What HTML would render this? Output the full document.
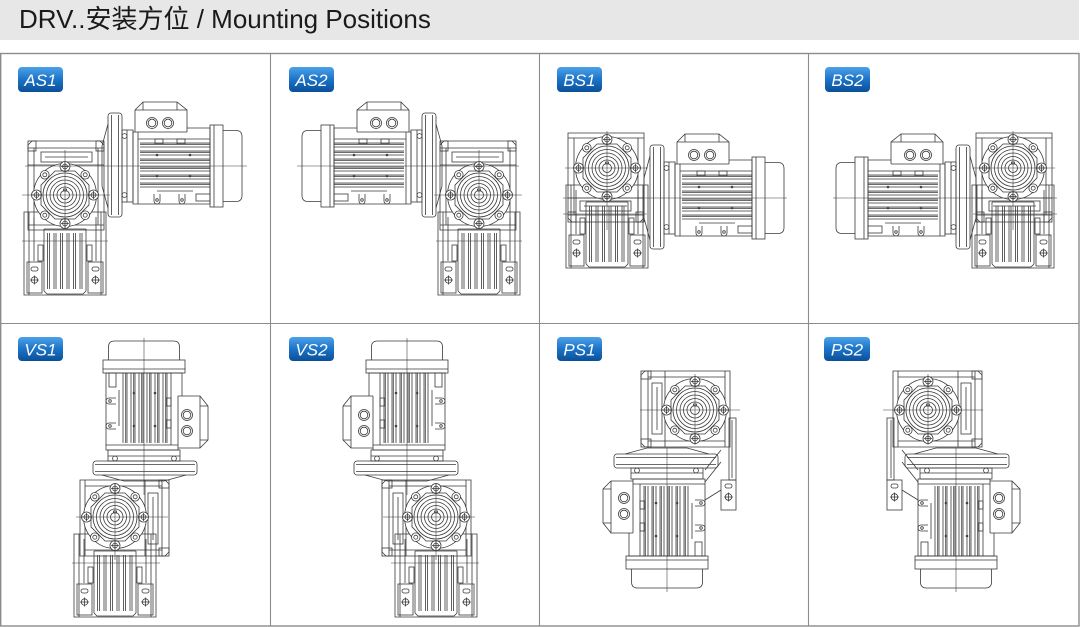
<!DOCTYPE html>
<html><head><meta charset="utf-8">
<style>
html,body{margin:0;padding:0;background:#fff;}
svg{display:block;}
</style></head><body>
<svg width="1080" height="627" viewBox="0 0 1080 627" xmlns="http://www.w3.org/2000/svg">
<defs>
<linearGradient id="bg" x1="0" y1="0" x2="0" y2="1">
<stop offset="0" stop-color="#4ca2e8"/>
<stop offset="0.5" stop-color="#1c73c7"/>
<stop offset="1" stop-color="#0a4f98"/>
</linearGradient>

<g id="face">
 <circle r="31.5" fill="#fff"/>
 <g fill="#fff">
  <circle cx="28.5" cy="0" r="5"/><circle cx="-28.5" cy="0" r="5"/><circle cx="0" cy="28.5" r="5"/><circle cx="0" cy="-28.5" r="5"/>
  <circle cx="20.2" cy="20.2" r="4.3"/><circle cx="-20.2" cy="20.2" r="4.3"/><circle cx="20.2" cy="-20.2" r="4.3"/><circle cx="-20.2" cy="-20.2" r="4.3"/>
 </g>
 <polygon points="24,9.95 9.95,24 -9.95,24 -24,9.95 -24,-9.95 -9.95,-24 9.95,-24 24,-9.95"/>
 <circle r="22"/>
 <circle r="18.5"/>
 <circle r="15"/>
 <circle r="11.5"/>
 <circle r="8"/>
 <circle r="4.5"/>
 <rect x="-1.5" y="-6" width="3" height="2"/>
 <g>
  <circle cx="28.5" cy="0" r="2.4"/><circle cx="-28.5" cy="0" r="2.4"/><circle cx="0" cy="28.5" r="2.4"/><circle cx="0" cy="-28.5" r="2.4"/>
  <circle cx="20.2" cy="20.2" r="2"/><circle cx="-20.2" cy="20.2" r="2"/><circle cx="20.2" cy="-20.2" r="2"/><circle cx="-20.2" cy="-20.2" r="2"/>
 </g>
 <path d="M24,0H33 M-24,0H-33 M0,24V33 M0,-24V-33 M28.5,-4V4 M-28.5,-4V4 M-4,28.5H4 M-4,-28.5H4"/>
</g>

<g id="base">
 <path d="M-41,17V100H41V17Z"/>
 <path d="M-36,17V100 M36,17V100 M-31,22V66 M31,22V66"/>
 <path d="M-21,34V96 M21,34V96 M-21,34H21 M-21,96L-18,99H18L21,96"/>
 <path d="M-17.5,38V94 M-15.5,38V94 M-11,38V94 M-9,38V94 M-4.5,38V94 M-2.5,38V94 M2,38V94 M4,38V94 M8.5,38V94 M10.5,38V94 M15,38V94 M17,38V94"/>
 <rect x="-38" y="67" width="15" height="31"/>
 <rect x="-34" y="72" width="7" height="4" rx="2"/>
 <circle cx="-30.5" cy="85" r="3.2"/>
 <path d="M-35,85H-26 M-30.5,80.5V89.5"/>
 <rect x="23" y="67" width="15" height="31"/>
 <rect x="27" y="72" width="7" height="4" rx="2"/>
 <circle cx="30.5" cy="85" r="3.2"/>
 <path d="M26,85H35 M30.5,80.5V89.5"/>
 <rect x="-27" y="50" width="5" height="16"/>
 <rect x="22" y="50" width="5" height="16"/>
</g>

<g id="hous">
 <path d="M-37,35V-50L-33,-54H35L39,-50V35Z"/>
 <path d="M-31,-47V30 M33,-47V30 M-37,-47H39 M-37,-30H39"/>
 <rect x="-24" y="-43" width="51" height="10"/>
 <path d="M-20,-38H23"/>
 <rect x="-37" y="-54" width="8" height="10"/>
 <rect x="31" y="-54" width="8" height="10"/>
 <path d="M-37,30H39"/>
</g>

<g id="mot">
 <path d="M0,-42L-6,-20V20L0,42"/>
 <rect x="0" y="-53" width="14" height="104" rx="3"/>
 <path d="M3.5,-51V49 M10.5,-51V49"/>
 <rect x="14" y="-36" width="11" height="72"/>
 <path d="M19,-36V36"/>
 <circle cx="16.5" cy="-30" r="2.4"/><circle cx="16.5" cy="29" r="2.4"/>
 <path d="M25,-34V38H102V-38H79"/>
 <path d="M25,-34H79 M30,-34V38 M30,-27H102"/>
 <path d="M32,-23H102 M32,-21.7H102 M32,-19H102 M32,-15H102 M32,-13.7H102 M32,-11H102 M32,-7H102 M32,-5.7H102 M32,-3H102 M32,1H102 M32,2.3H102 M32,5H102 M32,9H102 M32,10.3H102 M32,13H102 M32,17H102 M32,18.3H102 M32,21H102"/>
 <rect x="47" y="-27" width="8" height="5"/><rect x="69" y="-27" width="8" height="5"/>
 <circle cx="49" cy="-11" r="0.9"/><circle cx="82" cy="-11" r="0.9"/><circle cx="49" cy="10" r="0.9"/><circle cx="82" cy="10" r="0.9"/>
 <path d="M46,28V35A3,3 0 0 0 52,35V28 M71,28V35A3,3 0 0 0 77,35V28"/>
 <circle cx="49" cy="34" r="1.3"/><circle cx="74" cy="34" r="1.3"/>
 <path d="M49,25H85"/>
 <rect x="88" y="28" width="14" height="7"/>
 <path d="M27,-34V-56L35,-64H69L79,-56V-34"/>
 <path d="M27,-56H79 M35,-64V-56 M69,-64V-56"/>
 <circle cx="44" cy="-43" r="5.5"/><circle cx="44" cy="-43" r="3.8"/>
 <circle cx="60" cy="-43" r="5.5"/><circle cx="60" cy="-43" r="3.8"/>
 <rect x="102" y="-41" width="13" height="82"/>
 <path d="M106,-41V41"/>
 <path d="M115,-35.5H128Q134,-35.5 134,-29.5V29.5Q134,35.5 128,35.5H115"/>
</g>
</defs>

<rect x="0" y="0" width="1079" height="40" fill="#e7e7e7"/>
<text x="19" y="28" font-family="'Liberation Sans','Noto Sans CJK SC',sans-serif" font-size="26" fill="#1a1a1a">DRV..安装方位 / Mounting Positions</text>

<g stroke="#8c8c8c" fill="none">
 <rect x="0.7" y="53.5" width="1078.3" height="572.5" stroke-width="1.4"/>
 <path d="M270.5,53.5V626 M539.5,53.5V626 M808.5,53.5V626 M1,323.5H1079" stroke-width="1.1"/>
</g>

<g fill="none" stroke="#3a3a3a" stroke-width="0.8">
 <g id="as1">
  <use href="#hous" transform="translate(65,195)"/>
  <use href="#base" transform="translate(65,195)"/>
  <use href="#face" transform="translate(65,195)"/>
  <use href="#mot" transform="translate(108,166)"/>
  <path stroke-width="0.55" d="M25,166H247 M65,150V228 M22,195H110 M22,241H108"/>
 </g>
 <use href="#as1" transform="matrix(-1,0,0,1,544,0)"/>

 <g id="bs1">
  <use href="#hous" transform="translate(607,168) rotate(180)"/>
  <use href="#base" transform="translate(607,168)"/>
  <use href="#face" transform="translate(607,168)"/>
  <use href="#mot" transform="translate(650,198)"/>
  <path stroke-width="0.55" d="M563,198H787 M607,131V230 M565,168H648 M563,214H647"/>
 </g>
 <use href="#bs1" transform="matrix(-1,0,0,1,1620,0)"/>

 <g id="vs1">
  <use href="#hous" transform="translate(115,517) rotate(90)"/>
  <use href="#base" transform="translate(115,517)"/>
  <use href="#face" transform="translate(115,517)"/>
  <use href="#mot" transform="matrix(0,-1,-1,0,144,475)"/>
  <path stroke-width="0.55" d="M144,338V495 M115,483V560 M76,517H168 M72,563H160"/>
 </g>
 <use href="#vs1" transform="matrix(-1,0,0,1,551,0)"/>

 <g id="ps1">
  <use href="#hous" transform="translate(695,410) rotate(-90)"/>
  <use href="#face" transform="translate(695,410)"/>
  <use href="#mot" transform="matrix(0,1,1,0,667,454)"/>
  <rect x="729" y="418" width="7" height="62"/>
  <path d="M732,420V478"/>
  <rect x="721" y="480" width="15" height="30"/>
  <rect x="725" y="484" width="7" height="4" rx="2"/>
  <circle cx="728.5" cy="497" r="3.3"/>
  <path d="M724,497H733 M728.5,492.5V501.5"/>
  <path d="M705,470L721,450 M705,482L721,462 M705,500L721,490"/>
  <path stroke-width="0.55" d="M667,448V592 M695,374V445 M640,410H740"/>
 </g>
 <use href="#ps1" transform="matrix(-1,0,0,1,1623,0)"/>
</g>

<g font-family="'Liberation Sans',sans-serif" font-style="italic" font-size="17" fill="#fff" text-anchor="middle">
 <rect x="18" y="67" width="45" height="25" rx="4" fill="url(#bg)"/><text x="40.5" y="85.8">AS1</text>
 <rect x="289" y="67" width="45" height="25" rx="4" fill="url(#bg)"/><text x="311.5" y="85.8">AS2</text>
 <rect x="557" y="67" width="45" height="25" rx="4" fill="url(#bg)"/><text x="579.5" y="85.8">BS1</text>
 <rect x="825" y="67" width="45" height="25" rx="4" fill="url(#bg)"/><text x="847.5" y="85.8">BS2</text>
 <rect x="18" y="337" width="45" height="24" rx="4" fill="url(#bg)"/><text x="40.5" y="355.3">VS1</text>
 <rect x="289" y="337" width="45" height="24" rx="4" fill="url(#bg)"/><text x="311.5" y="355.3">VS2</text>
 <rect x="557" y="337" width="45" height="24" rx="4" fill="url(#bg)"/><text x="579.5" y="355.3">PS1</text>
 <rect x="824" y="337" width="46" height="24" rx="4" fill="url(#bg)"/><text x="847" y="355.3">PS2</text>
</g>
</svg>
</body></html>
